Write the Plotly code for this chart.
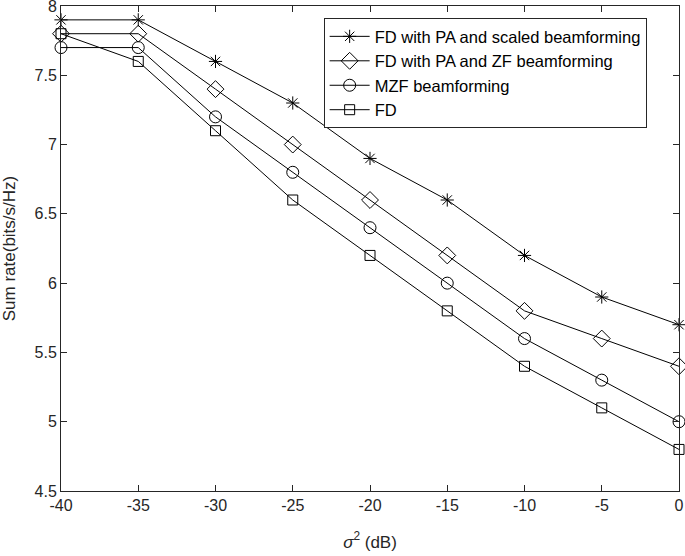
import plotly.graph_objects as go

sigma2_db = [-40, -35, -30, -25, -20, -15, -10, -5, 0]

fd_pa_scaled = [7.9, 7.9, 7.6, 7.3, 6.9, 6.6, 6.2, 5.9, 5.7]
fd_pa_zf     = [7.8, 7.8, 7.4, 7.0, 6.6, 6.2, 5.8, 5.6, 5.4]
mzf          = [7.7, 7.7, 7.2, 6.8, 6.4, 6.0, 5.6, 5.3, 5.0]
fd_only      = [7.8, 7.6, 7.1, 6.6, 6.2, 5.8, 5.4, 5.1, 4.8]

x_ticks = [-40, -35, -30, -25, -20, -15, -10, -5, 0]
x_ticklabels = ["-40", "-35", "-30", "-25", "-20", "-15", "-10", "-5", "0"]
y_ticks = [4.5, 5, 5.5, 6, 6.5, 7, 7.5, 8]
y_ticklabels = ["4.5", "5", "5.5", "6", "6.5", "7", "7.5", "8"]

series = [
    ("FD with PA and scaled beamforming", fd_pa_scaled, "asterisk-open", 11),
    ("FD with PA and ZF beamforming",     fd_pa_zf,     "diamond-open",  13),
    ("MZF beamforming",                   mzf,          "circle-open",   12),
    ("FD",                                fd_only,      "square-open",   10),
]

FONT = "Liberation Sans, Arial, sans-serif"
INK = "#262626"

fig = go.Figure()
for name, ys, sym, size in series:
    fig.add_trace(go.Scatter(
        x=sigma2_db, y=ys, name=name, mode="lines+markers", cliponaxis=False,
        line=dict(color="black", width=1),
        marker=dict(symbol=sym, size=size, color="black", line=dict(width=1, color="black")),
    ))

axis_common = dict(
    showline=True, linecolor=INK, linewidth=1, mirror="ticks",
    ticks="inside", ticklen=6, tickcolor=INK, showgrid=False, zeroline=False,
    automargin=False, tickfont=dict(family=FONT, size=16, color=INK),
)

fig.update_layout(
    width=685, height=556,
    margin=dict(l=61, r=6, t=6, b=65),
    plot_bgcolor="white", paper_bgcolor="white",
    font=dict(family=FONT, size=16, color=INK),
    xaxis=dict(range=[-40, 0], tickvals=x_ticks, ticktext=x_ticklabels,
               ticklabeloverflow="allow",
               title=dict(text="<i>σ</i><sup>2</sup> (dB)", standoff=22, font=dict(size=17)),
               **axis_common),
    yaxis=dict(range=[4.5, 8], tickvals=y_ticks, ticktext=y_ticklabels,
               ticklabeloverflow="allow",
               title=dict(text="Sum rate(bits/s/Hz)", standoff=16, font=dict(size=17)),
               **axis_common),
    legend=dict(x=0.425, y=0.975, xanchor="left", yanchor="top",
                bgcolor="white", bordercolor=INK, borderwidth=1,
                font=dict(family=FONT, size=16.5, color="black"),
                tracegroupgap=0, itemwidth=40),
)

# the page body has a default margin; drop it so the figure sits at the window's corner
fig.write_html("out.html", config={"displayModeBar": False},
               post_script="document.body.style.margin='0';document.body.style.overflow='hidden';")
